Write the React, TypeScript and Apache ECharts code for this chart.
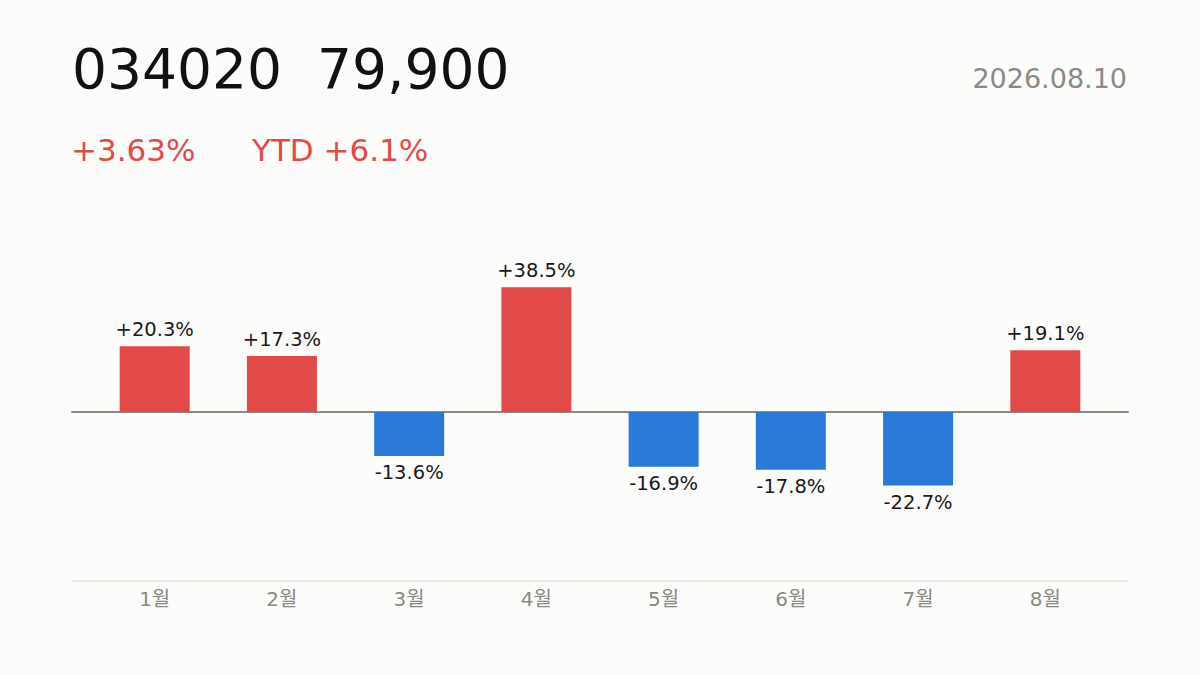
import { useRef, useEffect } from "react";
import * as echarts from "echarts";

const months = ["1월", "2월", "3월", "4월", "5월", "6월", "7월", "8월"];
const monthlyReturns = [20.3, 17.3, -13.6, 38.5, -16.9, -17.8, -22.7, 19.1];
const ticker = "034020";
const price = "79,900";
const dateLabel = "2026.08.10";
const dayChange = "+3.63%";
const ytdChange = "YTD +6.1%";

const FONT = "'DejaVu Sans', 'Noto Sans CJK KR', sans-serif";
const RED = "#e24a4a";
const BLUE = "#2a79d6";

function App() {
    const chartRef = useRef<HTMLDivElement | null>(null);

    useEffect(() => {
        if (!chartRef.current) return;
        const chart = echarts.init(chartRef.current, null, { renderer: "svg" });

        const fmt = (v: number) => (v > 0 ? "+" : "") + v.toFixed(1) + "%";

        chart.setOption({
            animation: false,
            backgroundColor: "#fcfcfa",
            textStyle: { fontFamily: FONT },
            grid: { left: 72, right: 72, top: 243, bottom: 94 },
            xAxis: [
                {
                    type: "value",
                    min: -0.65,
                    max: 7.65,
                    position: "bottom",
                    splitLine: { show: false },
                    axisTick: { show: false },
                    axisLine: { onZero: false, lineStyle: { color: "#e2e2de", width: 1.5 } },
                    axisLabel: {
                        customValues: months.map((_, i) => i),
                        formatter: (v: number) => months[Math.round(v)] ?? "",
                        color: "#8a8a86",
                        fontSize: 20,
                        margin: 8,
                        fontFamily: FONT,
                    },
                },
                {
                    type: "value",
                    min: -0.65,
                    max: 7.65,
                    position: "top",
                    splitLine: { show: false },
                    axisTick: { show: false },
                    axisLabel: { show: false },
                    axisLine: { onZero: true, lineStyle: { color: "#8a8a86", width: 2 } },
                },
            ],
            yAxis: {
                type: "value",
                min: -52.2,
                max: 52.2,
                show: false,
            },
            series: [
                {
                    type: "bar",
                    xAxisIndex: 0,
                    barWidth: 70,
                    z: 1,
                    data: monthlyReturns.map((v, i) => ({
                        value: [i, v],
                        itemStyle: { color: v >= 0 ? RED : BLUE },
                        label: { position: v >= 0 ? "top" : "bottom" },
                    })),
                    label: {
                        show: true,
                        distance: 7,
                        color: "#1a1a1a",
                        fontSize: 19.5,
                        fontFamily: FONT,
                        formatter: (p: any) => fmt(p.value[1]),
                    },
                },
            ],
            graphic: [
                {
                    type: "text",
                    x: 72,
                    y: 69,
                    style: {
                        text: ticker + "  " + price,
                        font: `55px ${FONT}`,
                        fill: "#111111",
                        textVerticalAlign: "middle",
                    },
                },
                {
                    type: "text",
                    x: 1127,
                    y: 78,
                    style: {
                        text: dateLabel,
                        font: `27px ${FONT}`,
                        fill: "#8a8a86",
                        textAlign: "right",
                        textVerticalAlign: "middle",
                    },
                },
                {
                    type: "text",
                    x: 71,
                    y: 150,
                    style: {
                        text: dayChange,
                        font: `31px ${FONT}`,
                        fill: RED,
                        textVerticalAlign: "middle",
                    },
                },
                {
                    type: "text",
                    x: 252,
                    y: 150,
                    style: {
                        text: ytdChange,
                        font: `31px ${FONT}`,
                        fill: RED,
                        textVerticalAlign: "middle",
                    },
                },
            ],
        });

        return () => {
            chart.dispose();
        };
    }, []);

    return (
        <div
            ref={chartRef}
            style={{ position: "fixed", left: 0, top: 0, width: "1200px", height: "675px" }}
        />
    );
}

export default App;
